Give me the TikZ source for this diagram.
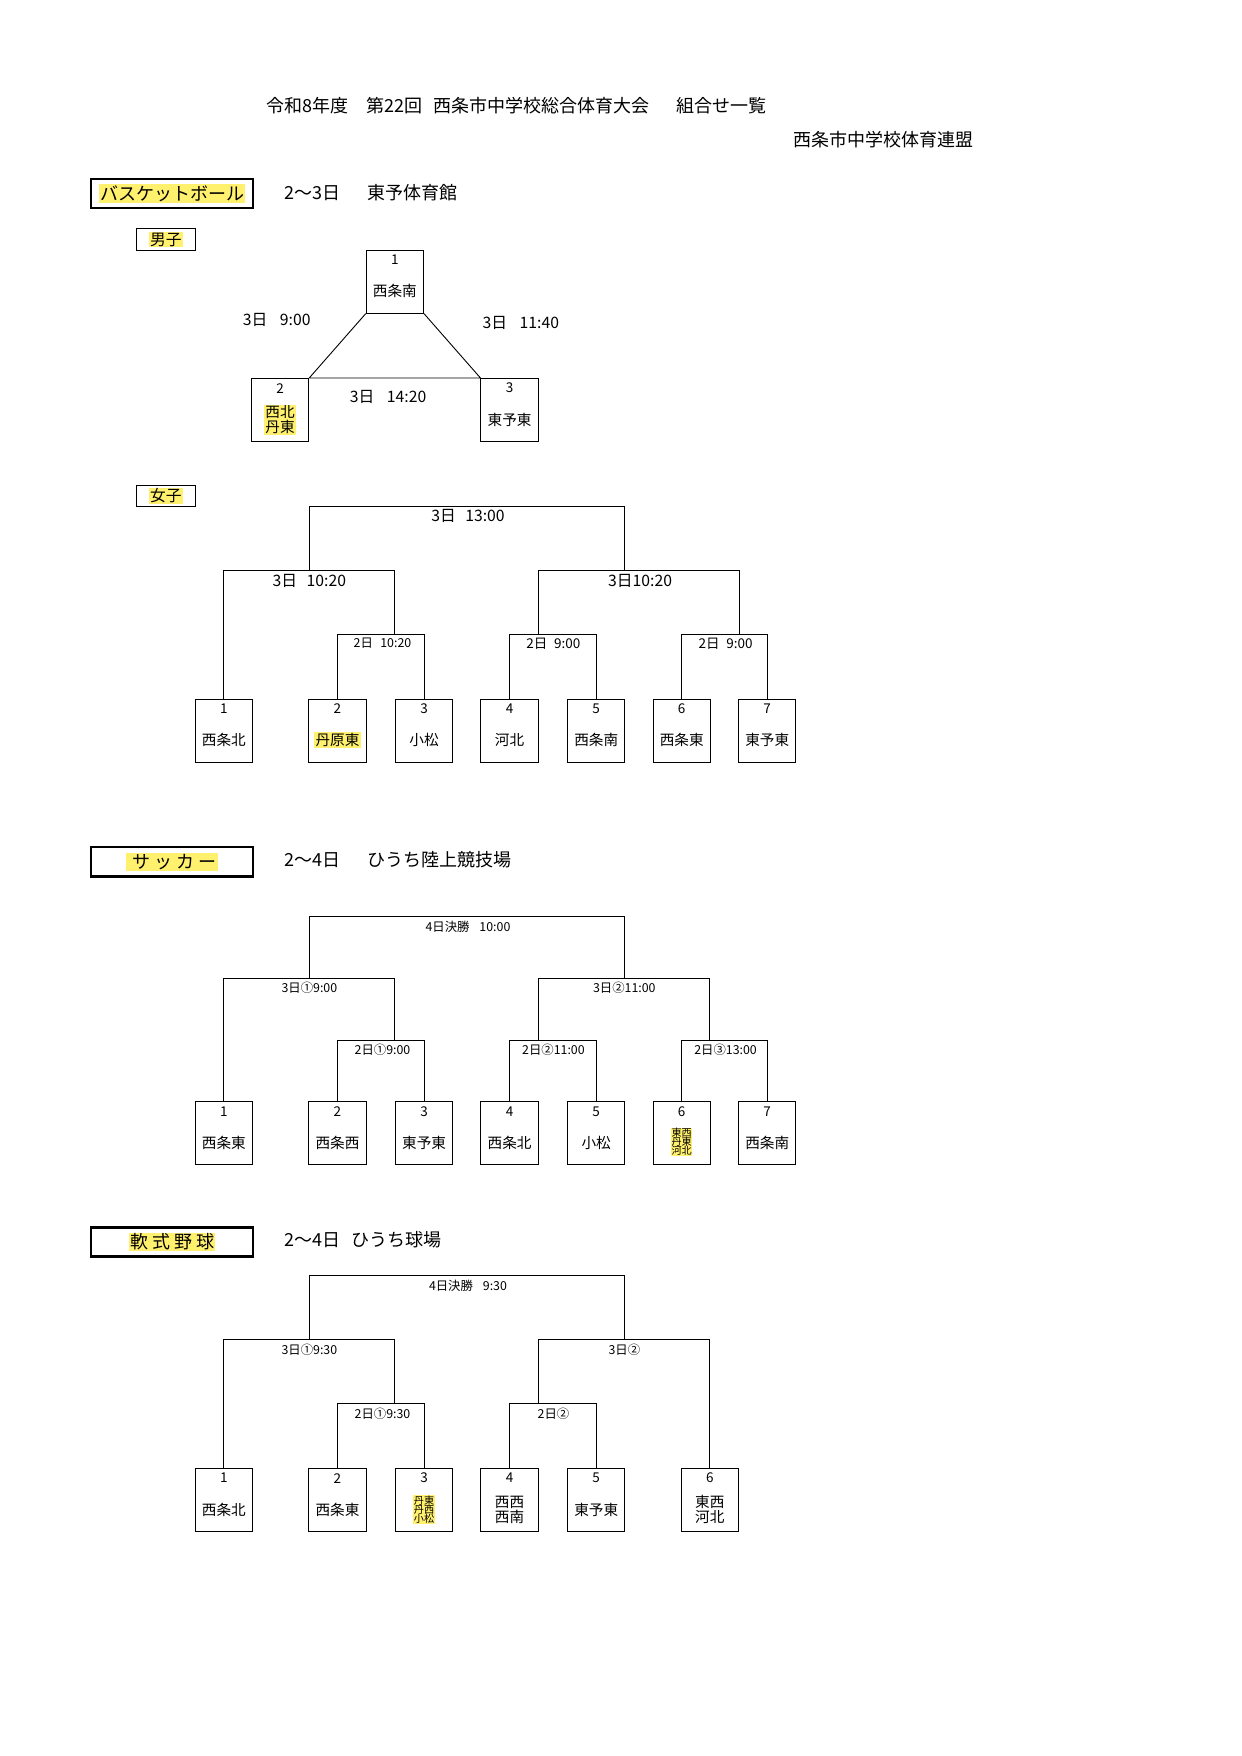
\documentclass[tikz,border=0pt]{standalone}
\usepackage{fontspec}
\setmainfont{Noto Sans CJK JP}
\usetikzlibrary{calc}
\definecolor{hl}{RGB}{255,240,110}
\tikzset{
  box/.style={draw,line width=0.8pt,minimum width=51pt,minimum height=56pt,inner sep=0pt,anchor=north},
  num/.style={font=\fontsize{12}{13}\selectfont,inner sep=0pt},
  nm/.style={font=\fontsize{13}{15}\selectfont,inner sep=0pt,align=center},
  sm/.style={font=\fontsize{9}{10}\selectfont,inner sep=0.5pt,align=center,fill=hl},
  lab/.style={font=\fontsize{14}{15}\selectfont,inner sep=0pt},
  slab/.style={font=\fontsize{11}{12}\selectfont,inner sep=0pt},
  hdr/.style={draw,line width=2.2pt,minimum width=144pt,minimum height=26pt,anchor=north west,inner sep=0pt},
  sex/.style={draw,line width=0.8pt,minimum width=52pt,minimum height=19pt,anchor=north west,inner sep=0pt},
  hltext/.style={fill=hl,inner sep=1pt,font=\fontsize{16}{17}\selectfont},
  ttl/.style={font=\fontsize{16}{18}\selectfont,inner sep=0pt,anchor=west},
  ln/.style={line width=0.8pt}
}
% \tb{name}{x center}{y top}{num}{text}
\newcommand{\tb}[5]{\node[box] (#1) at (#2,#3) {};
  \node[num] (#1n) at ($(#1.north)+(0,9)$) {#4};
  \node[nm] (#1t) at ($(#1.north)+(0,37)$) {#5};}
\begin{document}
\begin{tikzpicture}[x=1pt,y=-1pt]
\useasboundingbox (0,0) rectangle (1104,1561);
% title
\node[ttl] (title) at (237,94) {令和8年度\hspace{1em}第22回\hspace{0.6em}西条市中学校総合体育大会\hspace{1.5em}組合せ一覧};
\node[ttl] (org) at (705,124) {西条市中学校体育連盟};

% ===== basketball
\node[hdr] (hb) at (80,158) {}; \node[hltext] at (hb.center) {バスケットボール};
\node[ttl] (hbt) at (253,171) {2～3日\hspace{1.5em}東予体育館};
\node[sex] (boy) at (121,203) {}; \node[hltext,font=\fontsize{14}{15}\selectfont] at (boy.center) {男子};
\tb{b1}{351}{222}{1}{西条南}
\node[box] (b2) at (249,336) {}; \node[num] at ($(b2.north)+(0,9)$) {2};
\node[nm,fill=hl,inner sep=1pt] at ($(b2.north)+(0,37)$) {西北\\[-2pt]丹東};
\tb{b3}{453}{336}{3}{東予東}
\draw[ln] (b1.south west) -- (b2.north east) -- (b3.north west) -- (b1.south east);
\node[lab] at (246,284) {3日\hspace{0.8em}9:00};
\node[lab] at (463,287) {3日\hspace{0.8em}11:40};
\node[lab] at (345,353) {3日\hspace{0.8em}14:20};

% girls
\node[sex] (girl) at (121,431) {}; \node[hltext,font=\fontsize{14}{15}\selectfont] at (girl.center) {女子};
\tb{g1}{199}{621}{1}{西条北}
\node[box] (g2) at (300,621) {}; \node[num] at ($(g2.north)+(0,9)$) {2};
\node[nm,fill=hl,inner sep=1pt] at ($(g2.north)+(0,37)$) {丹原東};
\tb{g3}{377}{621}{3}{小松}
\tb{g4}{453}{621}{4}{河北}
\tb{g5}{530}{621}{5}{西条南}
\tb{g6}{606}{621}{6}{西条東}
\tb{g7}{682}{621}{7}{東予東}
\draw[ln] (g2.north) |- (351,564) coordinate (ga) -| (g3.north);
\draw[ln] (g4.north) |- (479,564) coordinate (gb) -| (g5.north);
\draw[ln] (g6.north) |- (657,564) coordinate (gc) -| (g7.north);
\draw[ln] (g1.north) |- (275,507) coordinate (gd) -| (ga);
\draw[ln] (gb) |- (555,507) coordinate (ge) -| (gc);
\draw[ln] (gd) |- (416,450) -| (ge);
\node[slab] at (340,572) {2日\hspace{0.6em}10:20};
\node[slab,font=\fontsize{12}{13}\selectfont] at (492,572) {2日\hspace{0.5em}9:00};
\node[slab,font=\fontsize{12}{13}\selectfont] at (645,572) {2日\hspace{0.5em}9:00};
\node[lab] at (275,516) {3日\hspace{0.6em}10:20};
\node[lab] at (569,516) {3日10:20};
\node[lab] at (416,459) {3日\hspace{0.6em}13:00};

% ===== soccer
\node[hdr] (hs) at (80,752) {}; \node[hltext] at (hs.center) {\hspace{0.3em}サ ッ カ ー\hspace{0.3em}};
\node[ttl] (hst) at (253,764) {2～4日\hspace{1.5em}ひうち陸上競技場};
\tb{s1}{199}{979}{1}{西条東}
\tb{s2}{300}{979}{2}{西条西}
\tb{s3}{377}{979}{3}{東予東}
\tb{s4}{453}{979}{4}{西条北}
\tb{s5}{530}{979}{5}{小松}
\node[box] (s6) at (606,979) {}; \node[num] at ($(s6.north)+(0,9)$) {6};
\node[sm] at ($(s6.north)+(0,36)$) {東西\\[-2pt]丹東\\[-2pt]河北};
\tb{s7}{682}{979}{7}{西条南}
\draw[ln] (s2.north) |- (351,925) coordinate (sa) -| (s3.north);
\draw[ln] (s4.north) |- (479,925) coordinate (sb) -| (s5.north);
\draw[ln] (s6.north) |- (631,925) coordinate (sc) -| (s7.north);
\draw[ln] (s1.north) |- (275,870) coordinate (sd) -| (sa);
\draw[ln] (sb) |- (555,870) coordinate (se) -| (sc);
\draw[ln] (sd) |- (416,815) -| (se);
\node[slab] at (340,933) {2日①9:00};
\node[slab] at (492,933) {2日②11:00};
\node[slab] at (645,933) {2日③13:00};
\node[slab] at (275,878) {3日①9:00};
\node[slab] at (555,878) {3日②11:00};
\node[slab] at (416,824) {4日決勝\hspace{0.8em}10:00};

% ===== baseball
\node[hdr] (hy) at (80,1090) {}; \node[hltext] at (hy.center) {軟 式 野 球};
\node[ttl] (hyt) at (253,1102) {2～4日\hspace{0.6em}ひうち球場};
\tb{y1}{199}{1305}{1}{西条北}
\tb{y2}{300}{1305}{2}{西条東}
\node[box] (y3) at (377,1305) {}; \node[num] at ($(y3.north)+(0,9)$) {3};
\node[sm] at ($(y3.north)+(0,37)$) {丹東\\[-2pt]丹西\\[-2pt]小松};
\tb{y4}{453}{1305}{4}{西西\\[-2pt]西南}
\tb{y5}{530}{1305}{5}{東予東}
\tb{y6}{631}{1305}{6}{東西\\[-2pt]河北}
\draw[ln] (y2.north) |- (351,1248) coordinate (ya) -| (y3.north);
\draw[ln] (y4.north) |- (479,1248) coordinate (yb) -| (y5.north);
\draw[ln] (y1.north) |- (275,1191) coordinate (yd) -| (ya);
\draw[ln] (yb) |- (555,1191) coordinate (ye) -| (y6.north);
\draw[ln] (yd) |- (416,1134) -| (ye);
\node[slab] at (340,1257) {2日①9:30};
\node[slab] at (492,1257) {2日②};
\node[slab] at (275,1200) {3日①9:30};
\node[slab] at (555,1200) {3日②};
\node[slab] at (416,1143) {4日決勝\hspace{0.8em}9:30};
\end{tikzpicture}
\end{document}
